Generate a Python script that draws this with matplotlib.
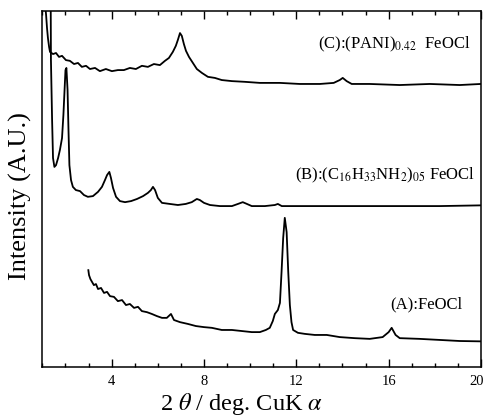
"""
XRD patterns of FeOCl and its intercalation compounds.
"""

import matplotlib
matplotlib.use("Agg")
import matplotlib.pyplot as plt
import matplotlib.transforms as mtransforms
from matplotlib.ticker import MultipleLocator

plt.rcParams["font.family"] = ["Liberation Serif", "DejaVu Serif"]
plt.rcParams["mathtext.fontset"] = "stix"

# (C): (PANI)0.42 FeOCl  -- 2theta (deg) / intensity (a.u., offset)
c_x = [1.10, 1.16, 1.20, 1.24, 1.29, 1.33, 1.46, 1.59, 1.72, 1.85, 2.02, 2.19,
       2.37, 2.54, 2.71, 2.89, 3.06, 3.28, 3.49, 3.75, 4.01, 4.27, 4.53, 4.79,
       5.05, 5.31, 5.57, 5.83, 6.09, 6.31, 6.48, 6.65, 6.78, 6.87, 6.96, 7.04,
       7.13, 7.22, 7.35, 7.52, 7.69, 7.91, 8.17, 8.47, 8.77, 9.21, 9.77, 10.42,
       11.29, 12.15, 13.02, 13.62, 13.88, 14.01, 14.18, 14.40, 15.18, 16.48,
       17.78, 19.08, 19.99]
c_y = [103.0, 98.9, 95.2, 92.4, 89.9, 88.5, 87.9, 88.2, 87.1, 87.4, 86.2, 86.0,
       85.1, 85.4, 84.3, 84.6, 83.7, 84.0, 83.1, 83.7, 83.1, 83.4, 83.4, 84.0,
       83.7, 84.6, 84.3, 85.1, 84.8, 86.0, 86.8, 88.5, 90.2, 91.9, 93.8, 93.0,
       90.7, 88.8, 87.1, 85.4, 83.7, 82.6, 81.5, 81.2, 80.6, 80.3, 80.1, 79.8,
       79.8, 79.5, 79.5, 79.8, 80.6, 81.2, 80.3, 79.5, 79.5, 79.2,
       79.5, 79.2, 79.5]

# (B): (C16H33NH2)0.5 FeOCl
b_x = [1.36, 1.37, 1.42, 1.46, 1.52, 1.59, 1.68, 1.76, 1.85, 1.91, 1.96, 2.00,
       2.04, 2.09, 2.13, 2.17, 2.24, 2.32, 2.45, 2.63, 2.80, 2.97, 3.19, 3.41,
       3.58, 3.71, 3.80, 3.90, 3.97, 4.06, 4.19, 4.36, 4.58, 4.84, 5.10, 5.36,
       5.57, 5.70, 5.79, 5.88, 6.00, 6.18, 6.52, 6.87, 7.21, 7.47, 7.69, 7.82,
       8.00, 8.26, 8.69, 9.21, 9.47, 9.68, 9.86, 10.07, 10.64, 11.07, 11.20,
       11.37, 12.15, 13.88, 16.48, 18.21, 19.99]
b_y = [103.0, 86.2, 69.4, 58.7, 56.2, 56.7, 58.7, 61.0, 64.3, 70.8, 77.8, 83.4,
       84.0, 77.8, 66.6, 56.7, 52.5, 50.6, 49.7, 49.4, 48.3, 47.8, 48.0, 49.2,
       50.6, 52.5, 53.9, 54.8, 53.1, 50.3, 47.8, 46.6, 46.3, 46.6, 47.2, 48.0,
       48.9, 49.7, 50.6, 49.7, 47.5, 46.1, 45.8, 45.5, 45.8, 46.3, 47.2, 46.9,
       46.1, 45.5, 45.2, 45.2, 45.8, 46.3, 45.8, 45.2, 45.2, 45.5, 45.8,
       45.2, 45.2, 45.2, 45.2, 45.2, 45.4]

# (A): FeOCl
a_x = [2.99, 3.02, 3.08, 3.15, 3.23, 3.32, 3.41, 3.54, 3.67, 3.80, 3.93, 4.10,
       4.27, 4.45, 4.62, 4.79, 4.97, 5.14, 5.31, 5.53, 5.74, 5.96, 6.18, 6.39,
       6.57, 6.70, 6.96, 7.30, 7.65, 8.00, 8.34, 8.77, 9.21, 9.64, 10.07, 10.42,
       10.68, 10.85, 10.98, 11.07, 11.20, 11.29, 11.36, 11.43, 11.50, 11.58,
       11.65, 11.72, 11.79, 11.86, 12.07, 12.37, 12.80, 13.32, 13.88, 14.53,
       15.18, 15.74, 16.00, 16.13, 16.30, 16.48, 17.34, 18.21, 19.08, 19.99]
a_y = [27.2, 25.8, 24.7, 23.9, 23.0, 23.3, 21.9, 22.2, 20.8, 21.1, 19.9, 19.7,
       18.5, 18.8, 17.4, 17.7, 16.6, 16.9, 15.7, 15.4, 14.9, 14.3, 13.8, 13.8,
       14.9, 13.2, 12.6, 12.1, 11.5, 11.2, 11.0, 10.4, 10.4, 10.1, 9.8, 9.8,
       10.4, 11.0, 12.9, 14.9, 16.0, 18.0, 26.7, 36.2, 41.9, 37.9,
       26.7, 17.4, 12.6, 10.4, 9.6, 9.3, 9.0, 9.0, 8.4, 8.1,
       7.9, 8.4, 9.8, 11.0, 9.0, 8.1, 7.9, 7.6, 7.3, 7.2]

LABEL_C = r"(C):(PANI)$_{0.42}$  FeOCl"
LABEL_B = r"(B):(C$_{16}$H$_{33}$NH$_{2}$)$_{05}$ FeOCl"
LABEL_A = "(A):FeOCl"


def main() -> None:
    fig = plt.figure(figsize=(4.84, 4.16), dpi=100)
    ax = fig.add_axes([0.0876, 0.1178, 0.9062, 0.8558])

    for xs, ys in [(c_x, c_y), (b_x, b_y), (a_x, a_y)]:
        ax.plot(xs, ys, color="black", linewidth=1.3)

    ax.set_xlim(1, 20)
    ax.set_ylim(0, 100)
    ax.set_yticks([])
    ax.xaxis.set_major_locator(MultipleLocator(4))
    ax.xaxis.set_minor_locator(MultipleLocator(1))
    ax.tick_params(axis="x", which="both", direction="in", top=True,
                   labelsize=10.5, pad=6, width=1)
    ax.tick_params(axis="x", which="major", length=6)
    ax.tick_params(axis="x", which="minor", length=3)
    for sp in ax.spines.values():
        sp.set_linewidth(1.1)

    # keep the "20" tick label inside the figure edge
    fig.canvas.draw()
    shift = mtransforms.ScaledTranslation(-4 / 100, 0, fig.dpi_scale_trans)
    for tick in ax.xaxis.get_major_ticks():
        if abs(tick.get_loc() - 20) < 1e-6:
            tick.label1.set_transform(tick.label1.get_transform() + shift)

    # sample labels
    ax.text(0.975, 0.896, LABEL_C, transform=ax.transAxes, ha="right",
            va="baseline", fontsize=12)
    ax.text(0.986, 0.528, LABEL_B, transform=ax.transAxes, ha="right",
            va="baseline", fontsize=12)
    ax.text(0.957, 0.166, LABEL_A, transform=ax.transAxes, ha="right",
            va="baseline", fontsize=12)

    ax.text(0.455, -0.105, r"2 $\theta$ / deg. CuK $\alpha$",
            transform=ax.transAxes, ha="center", va="center", fontsize=17.5)
    ax.text(-0.05, 0.48, "Intensity (A.U.)", transform=ax.transAxes,
            ha="center", va="center", rotation=90, fontsize=19)

    fig.savefig("out.png", dpi=100)
    plt.close(fig)


if __name__ == "__main__":
    main()
